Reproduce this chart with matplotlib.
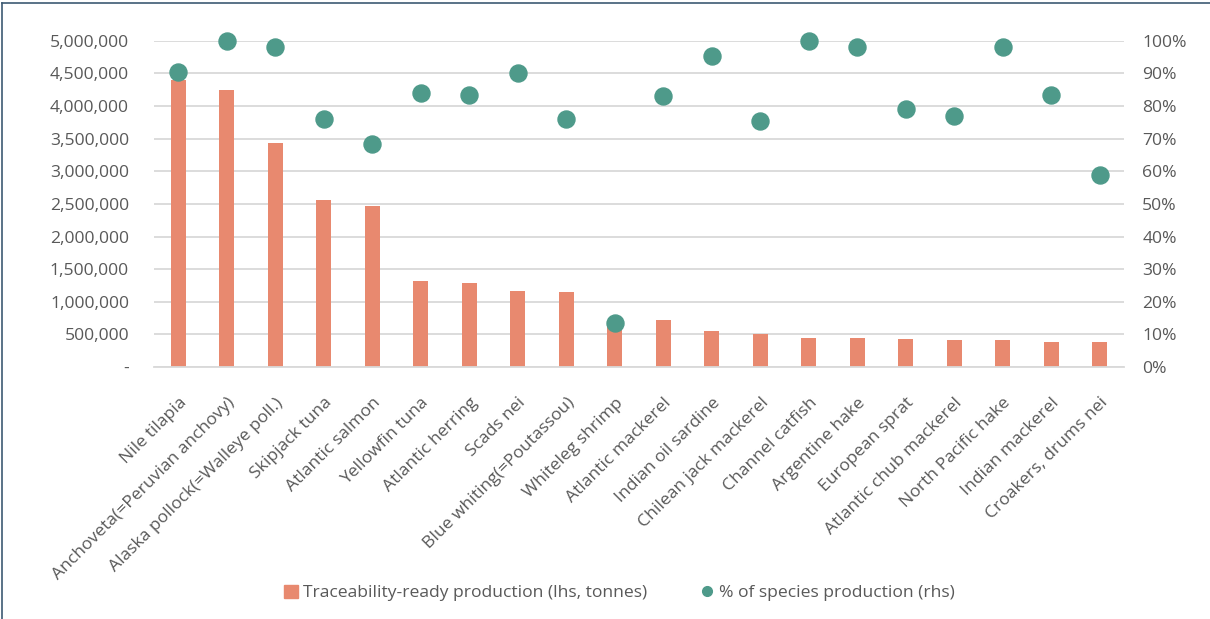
import matplotlib
matplotlib.use('Agg')
import matplotlib.pyplot as plt
from matplotlib.ticker import FuncFormatter, MultipleLocator
from matplotlib.lines import Line2D
from matplotlib.patches import Rectangle

plt.rcParams['font.family'] = ['Open Sans', 'DejaVu Sans']

species = ['Nile tilapia', 'Anchoveta(=Peruvian anchovy)', 'Alaska pollock(=Walleye poll.)',
           'Skipjack tuna', 'Atlantic salmon', 'Yellowfin tuna', 'Atlantic herring', 'Scads nei',
           'Blue whiting(=Poutassou)', 'Whiteleg shrimp', 'Atlantic mackerel', 'Indian oil sardine',
           'Chilean jack mackerel', 'Channel catfish', 'Argentine hake', 'European sprat',
           'Atlantic chub mackerel', 'North Pacific hake', 'Indian mackerel', 'Croakers, drums nei']

# tonnes, traceability-ready production (lhs)
production = [4400000, 4250000, 3430000, 2560000, 2470000, 1320000, 1290000, 1170000,
              1150000, 700000, 720000, 550000, 500000, 450000, 440000, 430000,
              420000, 410000, 390000, 380000]

# share of species production (rhs)
share = [0.905, 1.00, 0.98, 0.76, 0.684, 0.84, 0.834, 0.90, 0.76, 0.135,
         0.83, 0.954, 0.755, 1.00, 0.98, 0.79, 0.77, 0.98, 0.834, 0.59]

bar_color = '#E8896F'
dot_color = '#4E9A8A'
text_color = '#595959'
grid_color = '#D9D9D9'
fs = 12.6

fig = plt.figure(figsize=(12.1, 6.19), dpi=100)
ax = fig.add_axes([0.1273, 0.407, 0.8017, 0.527])
ax2 = ax.twinx()

x = range(len(species))
ax.bar(x, production, width=0.31, color=bar_color, zorder=2)
ax2.scatter(x, share, s=150, color=dot_color, zorder=3, clip_on=False)

ax.set_xlim(-0.5, len(species) - 0.5)
ax.set_ylim(0, 5000000)
ax2.set_ylim(0, 1)
ax.yaxis.set_major_locator(MultipleLocator(500000))
ax2.yaxis.set_major_locator(MultipleLocator(0.1))
ax.yaxis.set_major_formatter(FuncFormatter(lambda v, p: '-' if v == 0 else f'{v:,.0f}'))
ax2.yaxis.set_major_formatter(FuncFormatter(lambda v, p: f'{v * 100:.0f}%'))

ax.grid(axis='y', color=grid_color, lw=1.3, zorder=0)
ax.set_axisbelow(True)
for a in (ax, ax2):
    for s in a.spines.values():
        s.set_visible(False)
ax.spines['bottom'].set_visible(True)
ax.spines['bottom'].set_color(grid_color)
ax.spines['bottom'].set_linewidth(1.3)

ax.set_xticks(list(x))
ax.set_xticklabels(species, rotation=45, ha='right', rotation_mode='anchor')
ax.tick_params(axis='x', length=0, pad=20, labelsize=fs, labelcolor=text_color)
ax.tick_params(axis='y', length=0, pad=18, labelsize=fs, labelcolor=text_color)
ax2.tick_params(axis='y', length=0, pad=13, labelsize=fs, labelcolor=text_color)

# bars behind dots
ax2.set_zorder(ax.get_zorder() + 1)
ax2.patch.set_visible(False)

handles = [Rectangle((0, 0), 1, 1, color=bar_color),
           Line2D([], [], marker='o', color=dot_color, linestyle='none', markersize=7)]
fig.legend(handles, ['Traceability-ready production (lhs, tonnes)', '% of species production (rhs)'],
           loc='center', bbox_to_anchor=(0.512, 0.042), ncol=2, frameon=False,
           fontsize=fs, labelcolor=text_color, columnspacing=3.0, handlelength=0.8,
           handletextpad=0.3, handleheight=0.8)

# frame lines on left and top edge
fig.add_artist(Line2D([0.002, 0.002], [0, 0.995], color='#3D5A73', lw=1.2))
fig.add_artist(Line2D([0.002, 1], [0.995, 0.995], color='#3D5A73', lw=1.2))

plt.savefig('out.png', dpi=100)
